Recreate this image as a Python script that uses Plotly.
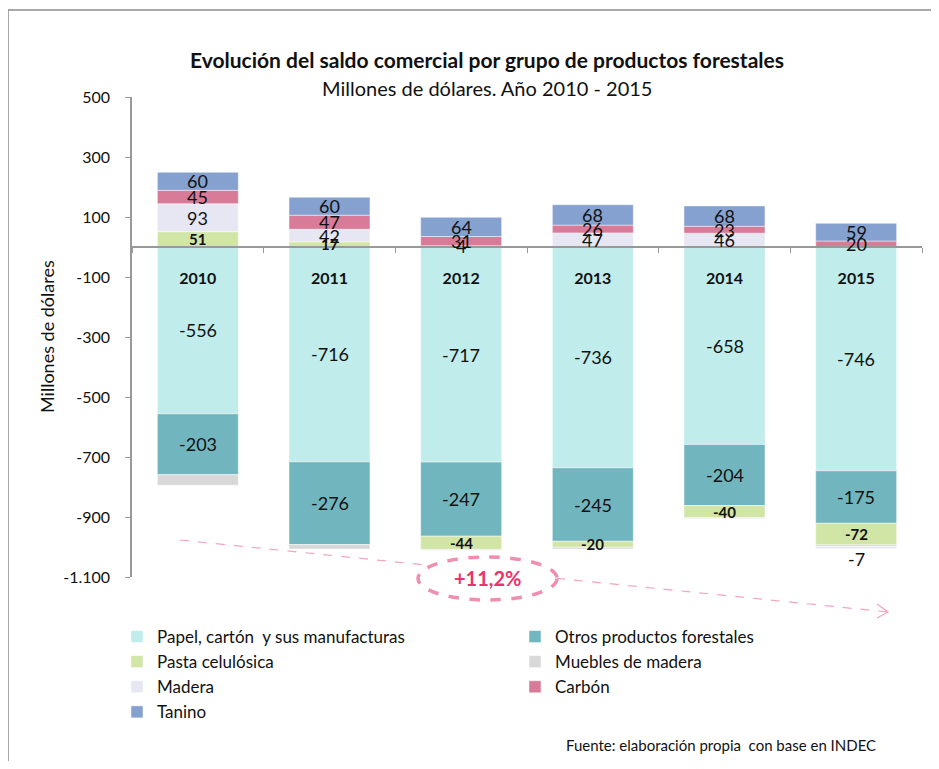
import numpy as np
import plotly.graph_objects as go

# data (millones de dólares)
years = ["2010", "2011", "2012", "2013", "2014", "2015"]
papel = [-556, -716, -717, -736, -658, -746]
otros = [-203, -276, -247, -245, -204, -175]
pasta = [51, 17, -44, -20, -40, -72]
muebles = [-35, -15, -3, -6, -3, -6]
madera = [93, 42, 4, 47, 46, -7]
carbon = [45, 47, 31, 26, 23, 20]
tanino = [60, 60, 64, 68, 68, 59]

y_ticks = [500, 300, 100, -100, -300, -500, -700, -900, -1100]
y_ticktext = ["500", "300", "100", "-100", "-300", "-500", "-700", "-900", "-1.100"]

FONT = "Lato"
OFF = 8  # page body margin
W, H = 923, 753
L, T = 124, 89
PW, PH = 790, 480
R, B = W - L - PW, H - T - PH

# name, values, colour, label style, legend column
series = [
    ("Papel, cartón  y sus manufacturas", papel, "#C0ECEC", "normal", "legend"),
    ("Otros productos forestales", otros, "#71B6BF", "normal", "legend2"),
    ("Pasta celulósica", pasta, "#D1E5A7", "bold", "legend"),
    ("Muebles de madera", muebles, "#D8D8D8", None, "legend2"),
    ("Madera", madera, "#E6E7F3", "normal", "legend"),
    ("Carbón", carbon, "#D87B98", "normal", "legend2"),
    ("Tanino", tanino, "#84A1CF", "normal", "legend"),
]


# helpers: screen pixel (as in the reference) -> paper fraction
def px(x):
    return (x - OFF - L) / PW


def py(y):
    return (T + PH - (y - OFF)) / PH


fig = go.Figure()
pos = np.zeros(len(years))
neg = np.zeros(len(years))
labels = []
for name, vals, color, weight, leg in series:
    fig.add_trace(go.Bar(x=years, y=vals, name=name, marker_color=color, legend=leg,
                         legendgroup=name,
                         marker_line=dict(color="rgba(255,255,255,0.6)", width=0.8)))
    v = np.array(vals, dtype=float)
    base = np.where(v >= 0, pos, neg)
    mid = base + v / 2
    for i, val in enumerate(vals):
        if weight is None:
            continue
        yshift = 0
        if abs(val) < 12 and val < 0:
            # tiny negative segment: label below the bar
            mid_i = base[i] + val
            yshift = -10
        else:
            mid_i = mid[i]
        labels.append(dict(x=i, y=float(mid_i), text=str(val), showarrow=False,
                           yshift=yshift, xanchor="center", yanchor="middle",
                           font=dict(family=FONT, size=15 if weight == "bold" else 18,
                                     color="#111",
                                     weight=700 if weight == "bold" else 400)))
    pos = np.where(v >= 0, pos + v, pos)
    neg = np.where(v < 0, neg + v, neg)

legend_style = dict(yanchor="top", xanchor="left", traceorder="normal",
                    tracegroupgap=5, itemwidth=30, font=dict(family=FONT, size=17))
fig.update_layout(
    barmode="relative",
    bargap=0.385,
    width=W, height=H,
    margin=dict(l=L, r=R, t=T, b=B),
    plot_bgcolor="white", paper_bgcolor="white",
    font=dict(family=FONT, size=16, color="#111"),
    legend=dict(x=px(117), y=py(619), **legend_style),
    legend2=dict(x=px(515), y=py(619), **legend_style),
    showlegend=True,
)
fig.update_xaxes(type="category", range=[-0.5, 5.5], anchor="free", position=py(247),
                 showline=True, linecolor="#999", linewidth=1.5, ticks="outside",
                 tickson="boundaries", ticklen=5, tickcolor="#999", ticklabelstandoff=17,
                 tickangle=0,
                 tickfont=dict(family=FONT, size=16, weight=700, color="#111"),
                 showgrid=False, zeroline=False)
fig.update_yaxes(range=[-1100, 500], tickvals=y_ticks, ticktext=y_ticktext,
                 showline=True, linecolor="#999", linewidth=1.5, ticks="outside",
                 ticklen=5, tickcolor="#999", showgrid=False, zeroline=False,
                 ticklabelstandoff=12,
                 tickfont=dict(family=FONT, size=16, color="#111"))


def note(x, y, text, size, color="#111", xanchor="center", angle=0):
    return dict(x=px(x), y=py(y), xref="paper", yref="paper", showarrow=False,
                xanchor=xanchor, yanchor="middle", textangle=angle, text=text,
                font=dict(family=FONT, size=size, color=color))


ann = labels + [
    note(487, 60, "<b>Evolución del saldo comercial por grupo de productos forestales</b>", 21),
    note(487, 88, "Millones de dólares. Año 2010 - 2015", 20),
    note(47, 337, "Millones de dólares", 18, angle=-90),
    note(487, 578, "<b>+11,2%</b>", 20, color="#E8336E"),
    note(878, 745, "Fuente: elaboración propia  con base en INDEC", 15, xanchor="right"),
]
fig.update_layout(annotations=ann)

pink = "#F5A3C0"
shapes = [
    dict(type="line", xref="paper", yref="paper", x0=px(8), y0=py(10), x1=px(939), y1=py(10),
         line=dict(color="#8c8c8c", width=1.5)),
    dict(type="line", xref="paper", yref="paper", x0=px(8), y0=py(10), x1=px(8), y1=py(769),
         line=dict(color="#8c8c8c", width=1.5)),
    dict(type="line", xref="paper", yref="paper", x0=px(180), y0=py(540), x1=px(888), y1=py(612),
         line=dict(color=pink, width=1.2, dash="dash")),
    dict(type="path", xref="paper", yref="paper",
         path=f"M {px(877)},{py(604)} L {px(888)},{py(612)} L {px(877)},{py(618)}",
         line=dict(color=pink, width=1.2)),
    dict(type="circle", xref="paper", yref="paper", x0=px(418), x1=px(557),
         y0=py(600), y1=py(557), fillcolor="white",
         line=dict(color="#F28DB2", width=3.5, dash="dash")),
]
fig.update_layout(shapes=shapes)

fig.write_html("out.html")
